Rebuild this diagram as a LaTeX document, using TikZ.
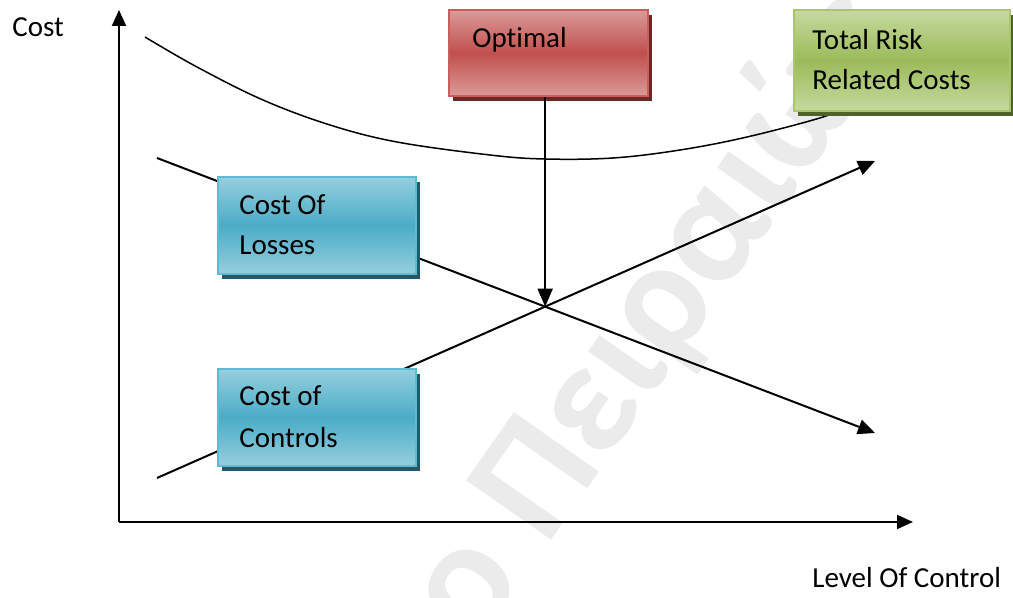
\documentclass[tikz,border=0pt]{standalone}
\usepackage{fontspec}
\setmainfont{Carlito}[Ligatures=NoCommon]
\usetikzlibrary{arrows.meta,shadows}

% panel colours: light edge band, saturated middle, outline, cast shadow
\definecolor{redLight}{HTML}{DB9A98}
\definecolor{redMid}{HTML}{C0504D}
\definecolor{redEdge}{HTML}{C85F5C}
\definecolor{redShade}{HTML}{6C2826}
\definecolor{greenLight}{HTML}{C6D9A0}
\definecolor{greenMid}{HTML}{9BBB59}
\definecolor{greenEdge}{HTML}{A9C66E}
\definecolor{greenShade}{HTML}{4F6228}
\definecolor{blueLight}{HTML}{95CFDE}
\definecolor{blueMid}{HTML}{4BACC6}
\definecolor{blueEdge}{HTML}{62BAD2}
\definecolor{blueShade}{HTML}{215968}
\definecolor{markGray}{HTML}{EBEBEB}

\begin{document}
\begin{tikzpicture}[x=0.5pt,y=-0.5pt,
  txt/.style={font=\fontsize{14.5}{20}\selectfont, inner sep=0pt, anchor=base west},
  txtblock/.style={txt, align=left},
  panel/.style={anchor=north west, inner sep=0pt, line width=1pt,
    drop shadow={shadow xshift=2pt, shadow yshift=-2.5pt, fill=#1Shade, opacity=1},
    draw=#1Edge, top color=#1Light, bottom color=#1Light, middle color=#1Mid},
  axis/.style={line width=1pt, -{Triangle[length=8pt,width=7pt]}},
  costline/.style={line width=1pt, -{Triangle[length=8.5pt,width=7.5pt]}},
  totalcurve/.style={line width=0.75pt},
  wm/.style={font=\fontsize{80}{86}\selectfont\bfseries, text=markGray, inner sep=0pt, anchor=base west}
]
\useasboundingbox (0,0) rectangle (1013,598);

% faint watermark lettering
\begin{scope}
  \clip (0,0) rectangle (1013,598);
  \node[wm, rotate=55] (mark) at (546,548) {\llap{ο\ }Πειραιώς};
\end{scope}

% total risk related costs curve
\draw[totalcurve] plot[smooth, tension=0.6] coordinates
  {(145,37) (197,67) (263,100) (330,125) (397,142) (490,155) (545,159)
   (613,158) (680,150) (747,137) (823,117) (845,106)};

% cost of losses (falling) and cost of controls (rising)
\coordinate (lossA) at (157,158);
\coordinate (lossB) at (875,433);
\coordinate (ctrlA) at (157,478);
\coordinate (ctrlB) at (875,161);
\draw[costline] (lossA) -- (lossB);
\draw[costline] (ctrlA) -- (ctrlB);
\coordinate (best) at (intersection of lossA--lossB and ctrlA--ctrlB);

% axes
\coordinate (origin) at (119,522);
\coordinate (yend) at (119,10);
\coordinate (xend) at (913,522);
\draw[axis] (origin) -- (yend);
\draw[axis] (origin) -- (xend);
\node[txt] (costT) at (12,37) {Cost};
\node[txt] (levelT) at (812,588) {Level Of Control};

% panels
\node[panel=red, minimum width=99.5pt, minimum height=43pt] (optimal) at (448,9) {};
\node[panel=green, minimum width=108pt, minimum height=50.5pt] (total) at (793,9) {};
\node[panel=blue, minimum width=99pt, minimum height=48.5pt] (losses) at (217,176) {};
\node[panel=blue, minimum width=99pt, minimum height=48.5pt] (controls) at (217,368) {};

% panel captions, placed by the baseline of their last line
\node[txt] (optT) at (472,48) {Optimal};
\node[txtblock] (totalT) at (812,90) {Total Risk\\Related Costs};
\node[txtblock] (lossT) at (239,255) {Cost Of\\Losses};
\node[txtblock, font=\fontsize{14.5}{21}\selectfont] (ctrlT) at (239,448) {Cost of\\Controls};

% optimal point marker
\draw[line width=1pt, -{Triangle[length=9pt,width=7.5pt]}] (best |- optimal.south) -- (best);
\end{tikzpicture}
\end{document}
